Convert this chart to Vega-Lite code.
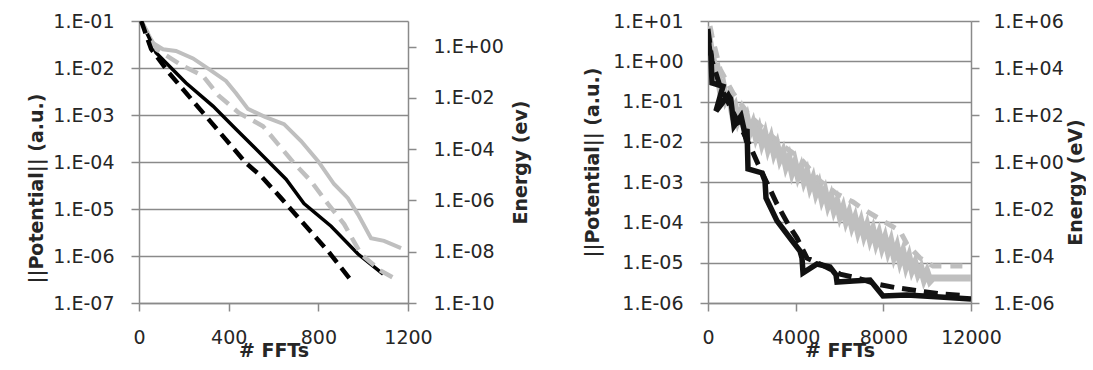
{
  "$schema": "https://vega.github.io/schema/vega-lite/v6.json",
  "padding": {"left": 27, "top": 12, "right": 0, "bottom": 0},
  "background": "#ffffff",
  "spacing": 52,
  "datasets": {
    "aPotBlack": [
      {"fft": 10, "potential": 0.1}, {"fft": 76, "potential": 0.021}, {"fft": 210, "potential": 0.0048},
      {"fft": 330, "potential": 0.00155}, {"fft": 433, "potential": 0.0005}, {"fft": 544, "potential": 0.000148},
      {"fft": 656, "potential": 0.000043}, {"fft": 736, "potential": 0.000013}, {"fft": 857, "potential": 4.3e-6},
      {"fft": 977, "potential": 1.1e-6}, {"fft": 1089, "potential": 4.1e-7}
    ],
    "aPotGray": [
      {"fft": 10, "potential": 0.1}, {"fft": 62, "potential": 0.034}, {"fft": 107, "potential": 0.025},
      {"fft": 165, "potential": 0.023}, {"fft": 241, "potential": 0.016}, {"fft": 312, "potential": 0.0095},
      {"fft": 388, "potential": 0.0053}, {"fft": 433, "potential": 0.0029}, {"fft": 486, "potential": 0.00135},
      {"fft": 562, "potential": 0.00091}, {"fft": 647, "potential": 0.00064}, {"fft": 723, "potential": 0.00028},
      {"fft": 799, "potential": 0.000104}, {"fft": 870, "potential": 3.4e-5}, {"fft": 932, "potential": 1.7e-5},
      {"fft": 977, "potential": 7.7e-6}, {"fft": 1035, "potential": 2.4e-6}, {"fft": 1093, "potential": 2.1e-6},
      {"fft": 1169, "potential": 1.47e-6}
    ],
    "aEnBlack": [
      {"fft": 10, "energy": 10}, {"fft": 54, "energy": 0.81}, {"fft": 134, "energy": 0.094},
      {"fft": 286, "energy": 0.0026}, {"fft": 477, "energy": 2.9e-5}, {"fft": 544, "energy": 9e-6},
      {"fft": 633, "energy": 1.26e-6}, {"fft": 736, "energy": 1.2e-7}, {"fft": 843, "energy": 1.07e-8},
      {"fft": 955, "energy": 6e-10}
    ],
    "aEnGray": [
      {"fft": 10, "energy": 10}, {"fft": 76, "energy": 0.81}, {"fft": 196, "energy": 0.176},
      {"fft": 285, "energy": 0.072}, {"fft": 357, "energy": 0.0119}, {"fft": 446, "energy": 0.0026},
      {"fft": 553, "energy": 0.00079}, {"fft": 620, "energy": 0.000158}, {"fft": 691, "energy": 2.9e-5},
      {"fft": 767, "energy": 5.7e-6}, {"fft": 843, "energy": 7.3e-7}, {"fft": 915, "energy": 1.2e-7},
      {"fft": 990, "energy": 8.1e-9}, {"fft": 1080, "energy": 1.77e-9}, {"fft": 1160, "energy": 7.2e-10}
    ],
    "bPotBlack": [
      {"i": 1, "fft": 0, "potential": 5.6}, {"i": 2, "fft": 46, "potential": 2.4}, {"i": 3, "fft": 137, "potential": 1.35},
      {"i": 4, "fft": 183, "potential": 0.29}, {"i": 5, "fft": 684, "potential": 0.24}, {"i": 6, "fft": 365, "potential": 0.058},
      {"i": 7, "fft": 1004, "potential": 0.163}, {"i": 8, "fft": 1186, "potential": 0.0248}, {"i": 9, "fft": 1506, "potential": 0.044},
      {"i": 10, "fft": 1688, "potential": 0.0157}, {"i": 11, "fft": 1780, "potential": 0.0209}, {"i": 12, "fft": 1825, "potential": 0.00212},
      {"i": 13, "fft": 2464, "potential": 0.00169}, {"i": 14, "fft": 2601, "potential": 0.00107}, {"i": 15, "fft": 2647, "potential": 0.000405},
      {"i": 16, "fft": 3148, "potential": 0.000109}, {"i": 17, "fft": 3742, "potential": 4.1e-5}, {"i": 18, "fft": 4198, "potential": 1.95e-5},
      {"i": 19, "fft": 4289, "potential": 1.31e-5}, {"i": 20, "fft": 4335, "potential": 5.6e-6}, {"i": 21, "fft": 4974, "potential": 9.3e-6},
      {"i": 22, "fft": 5567, "potential": 7.8e-6}, {"i": 23, "fft": 5841, "potential": 4.97e-6}, {"i": 24, "fft": 5886, "potential": 3.3e-6},
      {"i": 25, "fft": 6616, "potential": 3.5e-6}, {"i": 26, "fft": 7392, "potential": 3.7e-6}, {"i": 27, "fft": 7985, "potential": 1.5e-6},
      {"i": 28, "fft": 9080, "potential": 1.58e-6}, {"i": 29, "fft": 10586, "potential": 1.41e-6}, {"i": 30, "fft": 12000, "potential": 1.26e-6}
    ],
    "bPotGray": [
      {"fft": 46, "potential": 4.0}, {"fft": 137, "potential": 2.0}, {"fft": 228, "potential": 1.14},
      {"fft": 319, "potential": 0.68}, {"fft": 411, "potential": 0.72}, {"fft": 548, "potential": 0.217},
      {"fft": 684, "potential": 0.273}, {"fft": 821, "potential": 0.109}, {"fft": 958, "potential": 0.146},
      {"fft": 1095, "potential": 0.0583}, {"fft": 1232, "potential": 0.0777}, {"fft": 1369, "potential": 0.0349},
      {"fft": 1506, "potential": 0.0551}, {"fft": 1643, "potential": 0.0248}, {"fft": 1780, "potential": 0.0391},
      {"fft": 1916, "potential": 0.0176}, {"fft": 2053, "potential": 0.0278}, {"fft": 2190, "potential": 0.0132},
      {"fft": 2327, "potential": 0.0208}, {"fft": 2464, "potential": 0.0094}, {"fft": 2601, "potential": 0.0157},
      {"fft": 2738, "potential": 0.007}, {"fft": 2875, "potential": 0.0118}, {"fft": 3012, "potential": 0.0053},
      {"fft": 3148, "potential": 0.0084}, {"fft": 3285, "potential": 0.00376}, {"fft": 3422, "potential": 0.0056},
      {"fft": 3559, "potential": 0.00252}, {"fft": 3696, "potential": 0.00398}, {"fft": 3833, "potential": 0.00179},
      {"fft": 3970, "potential": 0.00299}, {"fft": 4107, "potential": 0.00142}, {"fft": 4244, "potential": 0.00224},
      {"fft": 4380, "potential": 0.00107}, {"fft": 4517, "potential": 0.00169}, {"fft": 4654, "potential": 0.00076},
      {"fft": 4791, "potential": 0.0012}, {"fft": 4928, "potential": 0.00054}, {"fft": 5065, "potential": 0.00085},
      {"fft": 5202, "potential": 0.00038}, {"fft": 5339, "potential": 0.0006}, {"fft": 5476, "potential": 0.000271},
      {"fft": 5612, "potential": 0.00043}, {"fft": 5749, "potential": 0.000204}, {"fft": 5886, "potential": 0.00032},
      {"fft": 6023, "potential": 0.000145}, {"fft": 6160, "potential": 0.000229}, {"fft": 6297, "potential": 0.000109},
      {"fft": 6434, "potential": 0.000172}, {"fft": 6571, "potential": 8.2e-5}, {"fft": 6708, "potential": 0.000129},
      {"fft": 6844, "potential": 6.1e-5}, {"fft": 6981, "potential": 0.000103}, {"fft": 7118, "potential": 4.9e-5},
      {"fft": 7255, "potential": 8.2e-5}, {"fft": 7392, "potential": 3.9e-5}, {"fft": 7529, "potential": 6.5e-5},
      {"fft": 7666, "potential": 3.1e-5}, {"fft": 7803, "potential": 5.2e-5}, {"fft": 7940, "potential": 2.46e-5},
      {"fft": 8077, "potential": 4.1e-5}, {"fft": 8213, "potential": 1.95e-5}, {"fft": 8350, "potential": 3.3e-5},
      {"fft": 8487, "potential": 1.47e-5}, {"fft": 8624, "potential": 2.46e-5}, {"fft": 8761, "potential": 1.1e-5},
      {"fft": 8898, "potential": 1.85e-5}, {"fft": 9035, "potential": 8.3e-6}, {"fft": 9172, "potential": 1.39e-5},
      {"fft": 9309, "potential": 6.6e-6}, {"fft": 9446, "potential": 9.9e-6}, {"fft": 9583, "potential": 5.3e-6},
      {"fft": 9720, "potential": 7.4e-6}, {"fft": 9857, "potential": 3.9e-6}, {"fft": 9993, "potential": 5.9e-6},
      {"fft": 10130, "potential": 3.5e-6}, {"fft": 10267, "potential": 4.2e-6}, {"fft": 11042, "potential": 4.2e-6},
      {"fft": 12000, "potential": 4.2e-6}
    ],
    "bEnBlack": [
      {"fft": 0, "energy": 460000}, {"fft": 183, "energy": 20000}, {"fft": 548, "energy": 1700},
      {"fft": 1004, "energy": 241}, {"fft": 1460, "energy": 34}, {"fft": 1916, "energy": 4.8},
      {"fft": 2282, "energy": 0.82}, {"fft": 2692, "energy": 0.128}, {"fft": 3148, "energy": 0.0163},
      {"fft": 3650, "energy": 0.0023}, {"fft": 4061, "energy": 0.00058}, {"fft": 4517, "energy": 8.2e-5},
      {"fft": 5111, "energy": 4.6e-5}, {"fft": 6023, "energy": 1.7e-5}, {"fft": 6799, "energy": 1.16e-5},
      {"fft": 7711, "energy": 6.4e-6}, {"fft": 8624, "energy": 4.4e-6}, {"fft": 9674, "energy": 3.2e-6},
      {"fft": 10723, "energy": 2.4e-6}, {"fft": 11818, "energy": 2.0e-6}
    ],
    "bEnGray": [
      {"fft": 91, "energy": 610000}, {"fft": 183, "energy": 230000}, {"fft": 548, "energy": 9100},
      {"fft": 1141, "energy": 863}, {"fft": 1916, "energy": 90.6}, {"fft": 2692, "energy": 18.9},
      {"fft": 3422, "energy": 4.8}, {"fft": 4198, "energy": 1.48}, {"fft": 5111, "energy": 0.155},
      {"fft": 5886, "energy": 0.0435}, {"fft": 6616, "energy": 0.0199}, {"fft": 7072, "energy": 0.01},
      {"fft": 7985, "energy": 0.0031}, {"fft": 8761, "energy": 0.00116}, {"fft": 9080, "energy": 0.00032},
      {"fft": 9674, "energy": 8.2e-5}, {"fft": 10267, "energy": 3.75e-5}, {"fft": 11179, "energy": 3.75e-5},
      {"fft": 11955, "energy": 3.75e-5}
    ]
  },
  "hconcat": [
    {
      "width": 269,
      "height": 282,
      "layer": [
        {
          "layer": [
            {
              "data": {"name": "aPotGray"},
              "mark": {"type": "line", "color": "#bfbfbf", "strokeWidth": 4, "clip": true},
              "encoding": {
                "x": {"field": "fft", "type": "quantitative", "scale": {"domain": [0, 1200], "nice": false, "zero": false},
                      "axis": {"title": "# FFTs", "values": [0, 400, 800, 1200], "format": "d", "grid": false, "tickSize": 8, "labelPadding": 17, "titleY": 38}},
                "y": {"field": "potential", "type": "quantitative", "scale": {"type": "log", "domain": [1e-7, 0.1], "nice": false},
                      "axis": {"orient": "left", "title": "||Potential|| (a.u.)", "values": [1e-7, 1e-6, 1e-5, 1e-4, 0.001, 0.01, 0.1], "grid": true, "tickSize": 8, "labelPadding": 17, "titlePadding": 6, "titleY": 167,
                               "labelExpr": "'1.E' + (log(datum.value)/LN10 < -0.5 ? '-' : '+') + (abs(round(log(datum.value)/LN10)) < 10 ? '0' : '') + abs(round(log(datum.value)/LN10))"}}
              }
            },
            {
              "data": {"name": "aPotBlack"},
              "mark": {"type": "line", "color": "#000000", "strokeWidth": 3.5, "clip": true},
              "encoding": {
                "x": {"field": "fft", "type": "quantitative"},
                "y": {"field": "potential", "type": "quantitative"}
              }
            }
          ]
        },
        {
          "layer": [
            {
              "data": {"name": "aEnGray"},
              "mark": {"type": "line", "color": "#bfbfbf", "strokeWidth": 4.5, "strokeDash": [14, 8], "clip": true},
              "encoding": {
                "x": {"field": "fft", "type": "quantitative"},
                "y": {"field": "energy", "type": "quantitative", "scale": {"type": "log", "domain": [1e-10, 10], "nice": false},
                      "axis": {"orient": "right", "title": "Energy (ev)", "values": [1e-10, 1e-8, 1e-6, 1e-4, 0.01, 1], "grid": false, "tickSize": 8, "labelPadding": 17, "titleAngle": 270, "titleBaseline": "top", "titlePadding": 8,
                               "labelExpr": "'1.E' + (log(datum.value)/LN10 < -0.5 ? '-' : '+') + (abs(round(log(datum.value)/LN10)) < 10 ? '0' : '') + abs(round(log(datum.value)/LN10))"}}
              }
            },
            {
              "data": {"name": "aEnBlack"},
              "mark": {"type": "line", "color": "#000000", "strokeWidth": 4.5, "strokeDash": [13, 7], "clip": true},
              "encoding": {
                "x": {"field": "fft", "type": "quantitative"},
                "y": {"field": "energy", "type": "quantitative"}
              }
            }
          ]
        }
      ],
      "resolve": {"scale": {"y": "independent"}}
    },
    {
      "width": 263,
      "height": 282,
      "layer": [
        {
          "layer": [
            {
              "data": {"name": "bPotGray"},
              "mark": {"type": "line", "color": "#bfbfbf", "strokeWidth": 7, "clip": true},
              "encoding": {
                "x": {"field": "fft", "type": "quantitative", "scale": {"domain": [0, 12000], "nice": false, "zero": false},
                      "axis": {"title": "# FFTs", "values": [0, 4000, 8000, 12000], "format": "d", "grid": false, "tickSize": 8, "labelPadding": 17, "titleY": 38}},
                "y": {"field": "potential", "type": "quantitative", "scale": {"type": "log", "domain": [1e-6, 10], "nice": false},
                      "axis": {"orient": "left", "title": "||Potential|| (a.u.)", "values": [1e-6, 1e-5, 1e-4, 0.001, 0.01, 0.1, 1, 10], "grid": true, "tickSize": 8, "labelPadding": 17, "titlePadding": 10,
                               "labelExpr": "'1.E' + (log(datum.value)/LN10 < -0.5 ? '-' : '+') + (abs(round(log(datum.value)/LN10)) < 10 ? '0' : '') + abs(round(log(datum.value)/LN10))"}}
              }
            },
            {
              "data": {"name": "bPotBlack"},
              "mark": {"type": "line", "color": "#111111", "strokeWidth": 5.5, "clip": true},
              "encoding": {
                "x": {"field": "fft", "type": "quantitative"},
                "y": {"field": "potential", "type": "quantitative"},
                "order": {"field": "i", "type": "quantitative"}
              }
            }
          ]
        },
        {
          "layer": [
            {
              "data": {"name": "bEnGray"},
              "mark": {"type": "line", "color": "#bfbfbf", "strokeWidth": 5, "strokeDash": [12, 9], "clip": true},
              "encoding": {
                "x": {"field": "fft", "type": "quantitative"},
                "y": {"field": "energy", "type": "quantitative", "scale": {"type": "log", "domain": [1e-6, 1000000], "nice": false},
                      "axis": {"orient": "right", "title": "Energy (eV)", "values": [1e-6, 1e-4, 0.01, 1, 100, 10000, 1000000], "grid": false, "tickSize": 8, "labelPadding": 14, "titleAngle": 270, "titleBaseline": "top", "titlePadding": 3, "titleY": 161,
                               "labelExpr": "'1.E' + (log(datum.value)/LN10 < -0.5 ? '-' : '+') + (abs(round(log(datum.value)/LN10)) < 10 ? '0' : '') + abs(round(log(datum.value)/LN10))"}}
              }
            },
            {
              "data": {"name": "bEnBlack"},
              "mark": {"type": "line", "color": "#111111", "strokeWidth": 5, "strokeDash": [14, 8], "clip": true},
              "encoding": {
                "x": {"field": "fft", "type": "quantitative"},
                "y": {"field": "energy", "type": "quantitative"}
              }
            }
          ]
        }
      ],
      "resolve": {"scale": {"y": "independent"}}
    }
  ],
  "config": {
    "font": "DejaVu Sans",
    "view": {"stroke": null},
    "axis": {
      "labelFont": "DejaVu Sans", "labelFontSize": 19, "labelColor": "#262626", "labelFlush": false, "labelOverlap": false,
      "titleFont": "DejaVu Sans", "titleFontSize": 19, "titleFontWeight": "bold", "titleColor": "#262626",
      "domainColor": "#8a8a8a", "domainWidth": 1.5, "tickColor": "#8a8a8a", "tickWidth": 1.5,
      "gridColor": "#8a8a8a", "gridWidth": 1.3, "gridOpacity": 1
    }
  }
}
